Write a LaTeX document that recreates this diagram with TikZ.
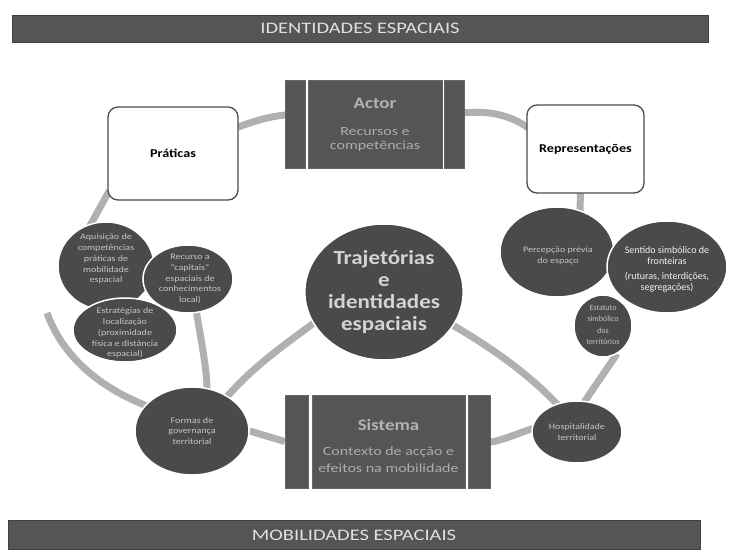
\documentclass[tikz,border=0pt]{standalone}
\usepackage{fontspec}
\setmainfont{Carlito}
\newfontfamily\wfont[FakeStretch=1.18]{Carlito}
\newfontfamily\wwfont[FakeStretch=1.28]{Carlito}
\newfontfamily\cfont[FakeStretch=1.15]{Carlito}
\usetikzlibrary{shapes.geometric,backgrounds,calc}
\definecolor{dk}{HTML}{4A4A4A}
\definecolor{boxdk}{HTML}{555555}
\definecolor{lnk}{HTML}{B0B0B0}
\definecolor{tx}{HTML}{C4C4C4}
\begin{document}
\begin{tikzpicture}[x=1pt,y=-1pt,
  blob/.style={ellipse,fill=dk,draw=white,line width=1.5pt,inner sep=0pt,text=tx,align=center,font=\wfont\fontsize{8.5}{10.8}\selectfont},
  blobtext/.style={inner sep=0pt,text=tx,align=center,font=\wfont\fontsize{8.5}{10.8}\selectfont},
  link/.style={draw=lnk,line width=7pt},
  rbox/.style={rectangle,rounded corners=10pt,draw=black!70,line width=1.3pt,fill=white,inner sep=0pt,font=\wfont\fontsize{12}{14}\selectfont\bfseries},
  strip/.style={rectangle,fill=boxdk,draw=black!60,line width=0.6pt,inner sep=0pt},
  banner/.style={rectangle,fill=boxdk,draw=black!75,line width=1pt,inner sep=0pt,text=white!88!black,font=\wwfont\fontsize{16}{18}\selectfont},
  boxtitle/.style={text=white!70!black,font=\wfont\fontsize{16}{18}\selectfont\bfseries,inner sep=0pt},
  boxsub/.style={text=white!68!black,font=\wwfont\fontsize{12.5}{14}\selectfont,align=center,inner sep=0pt}]
\useasboundingbox (0,0) rectangle (732,550);

% banners
\node[banner,minimum width=696pt,minimum height=27pt] (topban) at (360,28.5) {IDENTIDADES ESPACIAIS};
\node[banner,minimum width=692pt,minimum height=29pt] (botban) at (354,535) {MOBILIDADES ESPACIAIS};

% Actor box
\node[strip,minimum width=20pt,minimum height=88pt] (actL) at (295,124) {};
\node[strip,minimum width=134pt,minimum height=88pt] (actM) at (375,124) {};
\node[strip,minimum width=20pt,minimum height=88pt] (actR) at (454,124) {};
\node[boxtitle] (actT) at (375,103) {Actor};
\node[boxsub] (actS) at (375,139) {Recursos e\\competências};

% Sistema box
\node[strip,minimum width=23pt,minimum height=93pt] (sisL) at (296.5,441.5) {};
\node[strip,minimum width=153pt,minimum height=93pt] (sisM) at (388.5,441.5) {};
\node[strip,minimum width=22pt,minimum height=93pt] (sisR) at (479,441.5) {};
\node[boxtitle] (sisT) at (388.5,425) {Sistema};
\node[boxsub,font=\wwfont\fontsize{12.5}{17}\selectfont] (sisS) at (388.5,460) {Contexto de acção e\\efeitos na mobilidade};

% rounded boxes
\node[rbox,minimum width=130pt,minimum height=93pt] (prat) at (173,153.5) {Práticas};
\node[rbox,minimum width=117pt,minimum height=88pt] (rep) at (585.5,149) {Representações};

% central
\node[ellipse,fill=dk,draw=white,line width=1.5pt,inner sep=0pt,minimum width=142pt,minimum height=136pt,
  text=white!83!black,align=center,font=\cfont\fontsize{20}{22}\selectfont\bfseries] (traj) at (384,292)
  {Trajetórias\\e\\identidades\\espaciais};

% left cluster
\node[blob,minimum width=96pt,minimum height=88pt] (aq) at (106,266) {};
\node[blobtext] (aqT) at (106,259) {Aquisição de\\competências\\práticas de\\mobilidade\\espacial};
\node[blob,minimum width=90pt,minimum height=68pt] (rec) at (188,279) {};
\node[blobtext] (recT) at (190,279) {Recurso a\\“capitais”\\espaciais de\\conhecimentos\\local)};
\node[blob,minimum width=104pt,minimum height=64pt] (est) at (125,330) {};
\node[blobtext] (estT) at (125,333) {Estratégias de\\localização\\(proximidade\\física e distância\\espacial)};

% right cluster
\node[blob,minimum width=114pt,minimum height=90pt] (perc) at (557,252) {};
\node[blobtext] (percT) at (558,256) {Percepção prévia\\do espaço};
\node[blob,minimum width=120pt,minimum height=92pt] (sent) at (667,267) {};
\node[inner sep=0pt,align=center,text=white!95!black,font=\fontsize{10}{11}\selectfont] (sentT) at (667,269)
  {Sentido simbólico de\\fronteiras\\[4pt](ruturas, interdições,\\segregações)};
\node[blob,minimum width=58pt,minimum height=62pt] (estat) at (603,326) {};
\node[blobtext,font=\fontsize{8}{11.5}\selectfont] (estatT) at (603,325) {Estatuto\\simbólico\\dos\\territórios};

% bottom
\node[blob,minimum width=114pt,minimum height=88pt] (form) at (192,431) {Formas de\\governança\\territorial};
\node[blob,minimum width=90pt,minimum height=62pt] (hosp) at (577,432) {Hospitalidade\\territorial};

% connectors
\begin{scope}[on background layer]
\fill[white] (0,0) rectangle (732,550);
\draw[link] ($(prat.east)+(-2,-26)$) .. controls (255,121) and (270,116) .. ($(actL.west)+(2,-9)$);
\draw[link] ($(actR.east)+(-2,-11)$) .. controls (490,110) and (512,116) .. ($(rep.west)+(2,-21)$);
\draw[link] ($(rep.south)+(-5,-3)$) -- ($(perc.north)+(23,6)$);
\draw[link] ($(prat.south west)+(2,-10)$) -- ($(aq.north)+(-18,8)$);
\coordinate (la) at (47,313);
\draw[link] (la) .. controls (62,355) and (100,392) .. ($(form.north west)+(14,13)$);
\draw[link] ($(rec.south)+(8,-4)$) .. controls (202,345) and (207,370) .. ($(form.north)+(15,4)$);
\draw[link] ($(form.north east)+(-15,8)$) .. controls (255,362) and (290,342) .. ($(traj.south west)+(8,-34)$);
\draw[link] (form.east) -- (sisL.west);
\draw[link] ($(traj.south east)+(-10,-28)$) .. controls (490,345) and (530,375) .. ($(hosp.north)+(-18,6)$);
\draw[link] ($(estat.south)+(14,-4)$) .. controls (605,372) and (592,390) .. ($(hosp.north)+(6,4)$);
\draw[link] ($(sisR.east)+(-2,1)$) .. controls (505,440) and (520,432) .. ($(hosp.west)+(4,-4)$);
\end{scope}
\end{tikzpicture}
\end{document}
